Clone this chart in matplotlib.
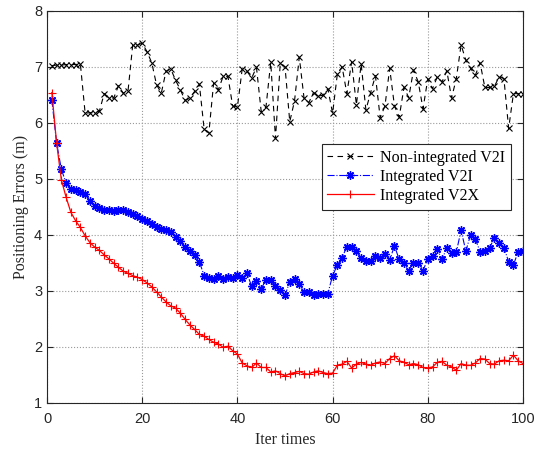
import matplotlib
matplotlib.use("Agg")
import matplotlib.pyplot as plt
import numpy as np

iters = list(range(1, 101))

non_integrated_v2i = [
    7.02, 7.03, 7.03, 7.04, 7.04, 7.04, 7.05, 6.17, 6.18, 6.18,
    6.21, 6.52, 6.45, 6.44, 6.66, 6.53, 6.56, 7.39, 7.39, 7.42,
    7.27, 7.07, 6.68, 6.53, 6.92, 6.96, 6.76, 6.59, 6.40, 6.44,
    6.56, 6.69, 5.89, 5.82, 6.71, 6.59, 6.83, 6.83, 6.30, 6.28,
    6.96, 6.92, 6.80, 6.99, 6.20, 6.28, 7.08, 5.72, 7.06, 7.00,
    6.02, 6.39, 7.17, 6.44, 6.36, 6.54, 6.48, 6.49, 6.61, 6.17,
    6.87, 7.00, 6.52, 7.09, 6.32, 7.05, 6.23, 6.54, 6.84, 6.09,
    6.30, 6.97, 6.30, 6.10, 6.63, 6.45, 6.94, 6.73, 6.25, 6.78,
    6.61, 6.82, 6.73, 6.93, 6.44, 6.79, 7.39, 7.12, 6.97, 6.85,
    7.07, 6.63, 6.63, 6.65, 6.82, 6.79, 5.90, 6.52, 6.52, 6.51,
]

integrated_v2i = [
    6.41, 5.64, 5.17, 4.92, 4.82, 4.80, 4.76, 4.72, 4.61, 4.51,
    4.47, 4.45, 4.44, 4.43, 4.44, 4.45, 4.41, 4.37, 4.33, 4.29,
    4.24, 4.20, 4.14, 4.10, 4.08, 4.05, 3.96, 3.88, 3.78, 3.71,
    3.64, 3.52, 3.27, 3.23, 3.21, 3.26, 3.21, 3.25, 3.22, 3.29,
    3.22, 3.31, 3.08, 3.18, 3.04, 3.19, 3.20, 3.08, 3.01, 2.92,
    3.16, 3.21, 3.12, 2.97, 2.97, 2.92, 2.94, 2.95, 2.95, 3.27,
    3.46, 3.59, 3.79, 3.78, 3.71, 3.58, 3.53, 3.53, 3.62, 3.58,
    3.66, 3.55, 3.80, 3.56, 3.50, 3.36, 3.50, 3.50, 3.36, 3.57,
    3.62, 3.74, 3.56, 3.77, 3.67, 3.69, 4.08, 3.71, 4.00, 3.92,
    3.70, 3.71, 3.77, 3.94, 3.86, 3.77, 3.52, 3.46, 3.70, 3.71,
]

integrated_v2x = [
    6.54, 5.64, 4.98, 4.67, 4.40, 4.25, 4.13, 3.98, 3.86, 3.78,
    3.72, 3.64, 3.57, 3.49, 3.42, 3.35, 3.31, 3.27, 3.24, 3.20,
    3.14, 3.07, 2.98, 2.89, 2.80, 2.73, 2.69, 2.60, 2.49, 2.39,
    2.31, 2.22, 2.19, 2.13, 2.08, 2.05, 1.99, 2.01, 1.93, 1.87,
    1.71, 1.66, 1.63, 1.71, 1.63, 1.63, 1.55, 1.57, 1.52, 1.48,
    1.52, 1.54, 1.56, 1.52, 1.51, 1.55, 1.57, 1.54, 1.52, 1.53,
    1.67, 1.69, 1.74, 1.62, 1.69, 1.72, 1.69, 1.67, 1.71, 1.73,
    1.70, 1.79, 1.84, 1.75, 1.72, 1.68, 1.70, 1.68, 1.63, 1.62,
    1.64, 1.72, 1.74, 1.67, 1.64, 1.58, 1.70, 1.67, 1.67, 1.71,
    1.79, 1.78, 1.70, 1.69, 1.75, 1.76, 1.75, 1.85, 1.75, 1.70,
]

series_labels = ["Non-integrated V2I", "Integrated V2I", "Integrated V2X"]
x_ticks = [0, 20, 40, 60, 80, 100]
y_ticks = [1, 2, 3, 4, 5, 6, 7, 8]

fig = plt.figure(figsize=(5.38, 4.49), dpi=100)
ax = fig.add_axes([0.0875, 0.103, 0.8845, 0.873])

ax.plot(iters, non_integrated_v2i, linestyle=(0, (5, 4)), color="black",
        marker="x", markersize=4, linewidth=0.8, markeredgewidth=0.8,
        label=series_labels[0])
ax.plot(iters, integrated_v2i, linestyle="-.", color="blue",
        marker=(8, 2, 0), markersize=6, linewidth=0.8, markeredgewidth=1.0,
        label=series_labels[1])
ax.plot(iters, integrated_v2x, linestyle="-", color="red",
        marker="+", markersize=6, linewidth=0.9, markeredgewidth=0.8,
        label=series_labels[2])

ax.set_xlim(0, 100)
ax.set_ylim(1, 8)
ax.set_xticks(x_ticks)
ax.set_yticks(y_ticks)

axis_col = "#262626"
ax.grid(True, linestyle=":", color="#9a9a9a", linewidth=0.8)
for s in ax.spines.values():
    s.set_color(axis_col)
    s.set_linewidth(0.8)
ax.tick_params(direction="in", top=True, right=True, length=4,
               colors=axis_col, labelsize=10.5, width=0.8)
ax.tick_params(axis="x", pad=7)
for lab in ax.get_xticklabels() + ax.get_yticklabels():
    lab.set_family(["Liberation Sans", "DejaVu Sans"])

ax.set_xlabel("Iter times", family=["Liberation Serif", "DejaVu Serif"],
              fontsize=11.5, color=axis_col, labelpad=4)
ax.set_ylabel("Positioning Errors (m)", family=["Liberation Serif", "DejaVu Serif"],
              fontsize=11.5, color=axis_col, labelpad=4)

leg = ax.legend(loc="upper right", bbox_to_anchor=(0.974, 0.66),
                prop={"family": ["Liberation Serif", "DejaVu Serif"], "size": 11.5},
                fancybox=False, edgecolor=axis_col, framealpha=1,
                handlelength=2.9, borderpad=0.35, labelspacing=0.2,
                handletextpad=0.4, borderaxespad=0)
leg.get_frame().set_linewidth(0.8)

fig.savefig("out.png", dpi=100)
